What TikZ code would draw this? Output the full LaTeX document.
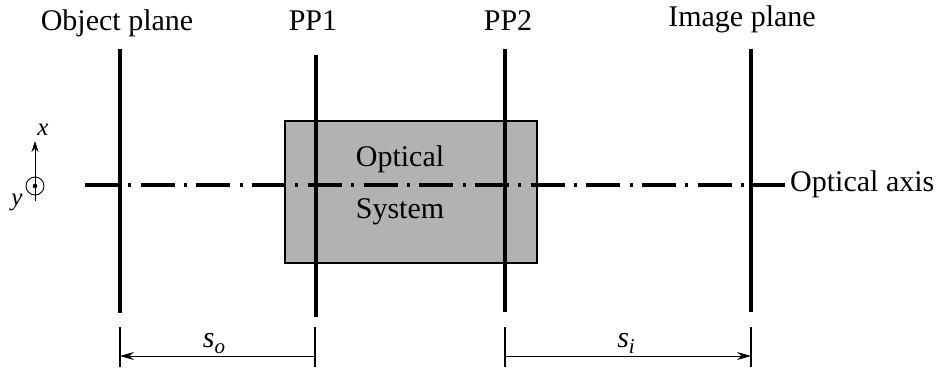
\documentclass[tikz,border=0pt]{standalone}
\usepackage{fontspec}
\setmainfont{Liberation Serif}
\usetikzlibrary{arrows.meta}

\newcommand{\distlabel}[2]{\textit{#1}\raisebox{-0.45ex}{\fontsize{21}{21}\selectfont\textit{#2}}}

\begin{document}
\begin{tikzpicture}[
    x=1pt,
    y=-1pt,
    plane/.style={line width=3.4},
    tick/.style={line width=1.8},
    dim/.style={line width=0.9, -{Stealth[length=14, width=8]}},
    axisline/.style={line width=3.4, dash pattern=on 34 off 9.3 on 3 off 9.4},
    lbl/.style={font=\fontsize{30}{34}\selectfont, inner sep=0},
    small/.style={font=\fontsize{25}{27}\selectfont\itshape, inner sep=0}
]
  \useasboundingbox (0,0) rectangle (939,372);

  % optical system
  \node[draw, line width=2, fill=gray!60, inner sep=0,
        minimum width=252, minimum height=142] (sys) at (411,192) {};
  \node[lbl, anchor=base] (sysA) at (400,166) {Optical};
  \node[lbl, anchor=base] (sysB) at (400,218) {System};

  % optical axis
  \coordinate (ax-l) at (85,185);
  \coordinate (ax-r) at (785,185);
  \draw[axisline] (ax-l) -- (ax-r);
  \node[lbl, anchor=base west] (axlbl) at (790,191) {Optical axis};

  % planes
  \coordinate (obj-t) at (120,49);  \coordinate (obj-b) at (120,313);
  \coordinate (pp1-t) at (316,55);  \coordinate (pp1-b) at (316,317);
  \coordinate (pp2-t) at (505,49);  \coordinate (pp2-b) at (505,312);
  \coordinate (img-t) at (751,49);  \coordinate (img-b) at (751,312);
  \draw[plane] (obj-t) -- (obj-b);
  \draw[plane] (pp1-t) -- (pp1-b);
  \draw[plane] (pp2-t) -- (pp2-b);
  \draw[plane] (img-t) -- (img-b);

  \node[lbl, anchor=base] (objlbl) at (117,30) {Object plane};
  \node[lbl, anchor=base] (pp1lbl) at (313,30) {PP1};
  \node[lbl, anchor=base] (pp2lbl) at (508,30) {PP2};
  \node[lbl, anchor=base] (imglbl) at (742,27) {Image plane};

  % distances
  \coordinate (so-l) at (120,356);  \coordinate (so-r) at (315,356);
  \coordinate (si-l) at (505,356);  \coordinate (si-r) at (751,356);
  \draw[tick] (120,327) -- (120,367);
  \draw[tick] (315,327) -- (315,367);
  \draw[tick] (505,327) -- (505,367);
  \draw[tick] (751,327) -- (751,367);
  \draw[dim] (so-r) -- (so-l);
  \draw[dim] (si-l) -- (si-r);
  \node[font=\fontsize{30}{32}\selectfont, inner sep=0, anchor=base] (so) at (214,347) {\distlabel{s}{o}};
  \node[font=\fontsize{30}{32}\selectfont, inner sep=0, anchor=base] (si) at (626,347) {\distlabel{s}{i}};

  % coordinate frame
  \coordinate (cs-o) at (35,186);
  \coordinate (cs-b) at (35,201);
  \coordinate (cs-x) at (35,141);
  \draw[line width=0.9] (cs-o) circle (9);
  \fill (cs-o) circle (2.3);
  \draw[line width=0.9, -{Stealth[length=11, width=7]}] (cs-b) -- (cs-x);
  \node[small, anchor=base] (xlbl) at (43,135) {x};
  \node[small, anchor=base] (ylbl) at (17,205) {y};
\end{tikzpicture}
\end{document}
